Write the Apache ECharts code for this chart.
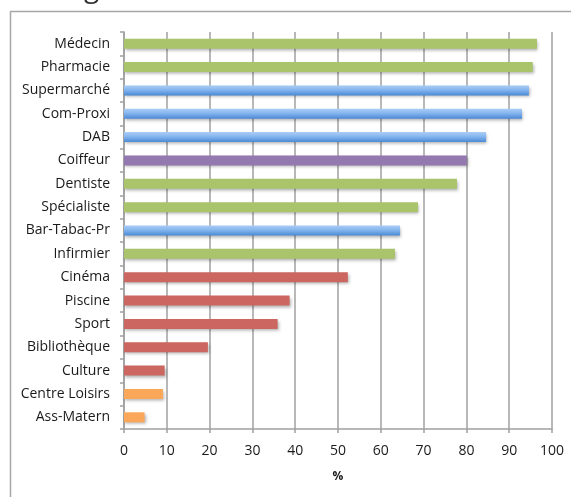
<!DOCTYPE html>
<html>
<head>
<meta charset="utf-8">
<script src="https://cdn.jsdelivr.net/npm/echarts@6/dist/echarts.min.js"></script>
<style>
html,body{margin:0;padding:0;background:#fff;}
#c{width:571px;height:497px;}
</style>
</head>
<body>
<div id="c"></div>
<script>
var categories = ['Médecin','Pharmacie','Supermarché','Com-Proxi','DAB','Coiffeur','Dentiste','Spécialiste','Bar-Tabac-Pr','Infirmier','Cinéma','Piscine','Sport','Bibliothèque','Culture','Centre Loisirs','Ass-Matern'];
var values = [96.5, 95.5, 94.6, 93.0, 84.6, 80.1, 77.8, 68.7, 64.5, 63.3, 52.3, 38.7, 35.9, 19.6, 9.5, 9.1, 4.8];
var groups = ['sante','sante','commerce','commerce','commerce','coiffeur','sante','sante','commerce','sante','loisir','loisir','loisir','loisir','loisir','enfance','enfance'];
var xTicks = [0,10,20,30,40,50,60,70,80,90,100];

var groupColors = {
  sante: '#A9C46B',
  commerce: new echarts.graphic.LinearGradient(0,0,0,1,[
    {offset:0,color:'#A9CDF6'},{offset:0.45,color:'#85B5EE'},{offset:1,color:'#4A8AD5'}]),
  coiffeur: '#9479B1',
  loisir: '#CC6660',
  enfance: '#FBA759'
};

var chart = echarts.init(document.getElementById('c'), null, {renderer:'canvas'});
var font = '"Open Sans", sans-serif';
chart.setOption({
  animation: false,
  backgroundColor: '#fff',
  graphic: [
    {type:'rect', shape:{x:10.5, y:11.5, width:700, height:700}, style:{fill:'none', stroke:'#A6A6A6', lineWidth:1.5}, z:-10},
    {type:'text', left:84, top:-25, style:{text:'g', font:'28px ' + font, fill:'#333'}}
  ],
  grid: {left:124, right:19, top:32, bottom:68},
  xAxis: {
    type:'value', min:0, max:100, interval:10,
    axisLine:{show:true, lineStyle:{color:'#A0A0A0', width:1.5}},
    axisTick:{show:true, length:4, lineStyle:{color:'#A0A0A0', width:1.5}},
    splitLine:{show:true, lineStyle:{color:'#A0A0A0', width:1.5}},
    axisLabel:{color:'#1a1a1a', fontSize:14, fontFamily:font, margin:15,
      formatter:function(v){ return xTicks.indexOf(v) >= 0 ? String(v) : ''; }},
    name:'%', nameLocation:'middle', nameGap:42,
    nameTextStyle:{color:'#1a1a1a', fontSize:12, fontWeight:'bold', fontFamily:font}
  },
  yAxis: {
    type:'category', data:categories, inverse:true,
    axisLine:{show:true, lineStyle:{color:'#A0A0A0', width:1.5}},
    axisTick:{show:true, length:4, alignWithLabel:false, lineStyle:{color:'#A0A0A0', width:1.5}},
    splitLine:{show:false},
    axisLabel:{color:'#1a1a1a', fontSize:14, fontFamily:font, margin:14}
  },
  series: [{
    type:'bar',
    barWidth:10,
    data: values.map(function(v,i){
      return {value:v, itemStyle:{color:groupColors[groups[i]]}};
    }),
    itemStyle:{shadowBlur:3, shadowOffsetX:1, shadowOffsetY:2, shadowColor:'rgba(0,0,0,0.3)'}
  }]
});
</script>
</body>
</html>
